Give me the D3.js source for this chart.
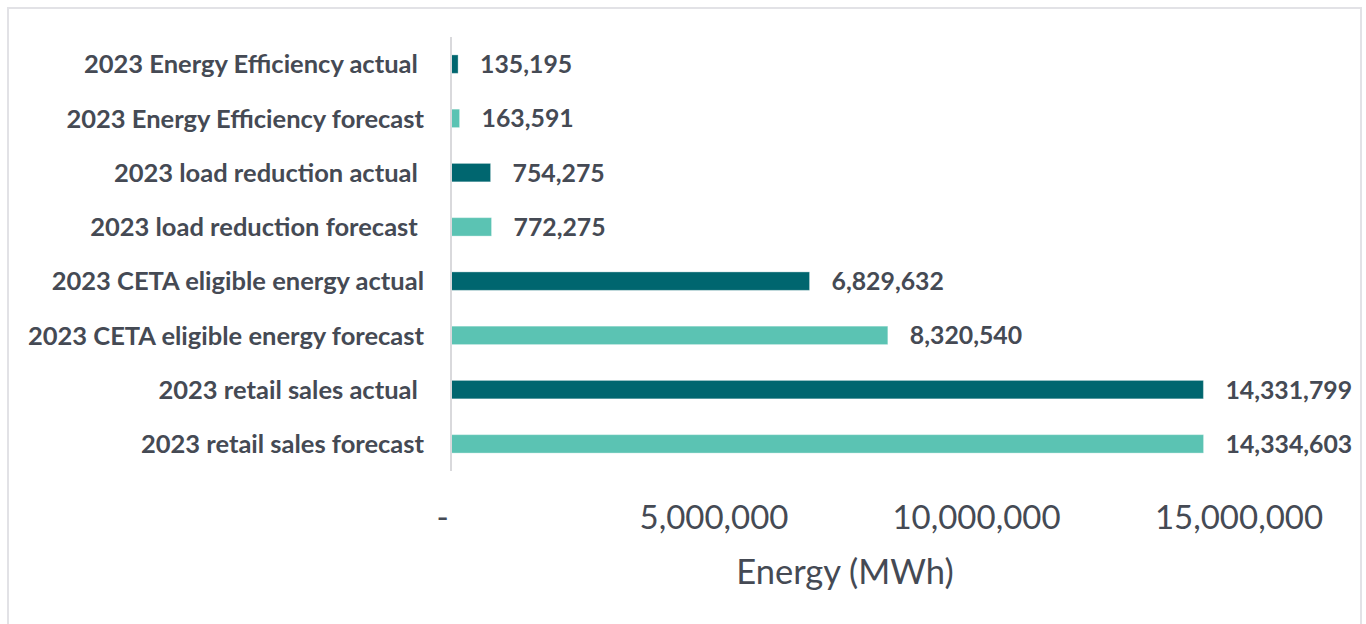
<!DOCTYPE html>
<html>
<head>
<meta charset="utf-8">
<script src="https://cdn.jsdelivr.net/npm/d3@7"></script>
<style>
  html, body { margin: 0; padding: 0; background: #ffffff; }
  svg { display: block; }
  text { white-space: pre; }
</style>
</head>
<body>
<svg id="chart" width="1366" height="624"></svg>
<script>
const categories = [
  "2023 Energy Efficiency actual ",
  "2023 Energy Efficiency forecast",
  "2023 load reduction actual ",
  "2023 load reduction forecast ",
  "2023 CETA eligible energy actual",
  "2023 CETA eligible energy forecast",
  "2023 retail sales actual ",
  "2023 retail sales forecast"
];
const values = [135195, 163591, 754275, 772275, 6829632, 8320540, 14331799, 14334603];
const seriesType = ["actual", "forecast", "actual", "forecast", "actual", "forecast", "actual", "forecast"];
const tickValues = [0, 5000000, 10000000, 15000000];
const tickLabels = ["-", "5,000,000", "10,000,000", "15,000,000"];
const axisTitle = "Energy (MWh)";

const colors = { actual: "#00666f", forecast: "#5bc3b3" };
const textColor = "#454a54";

const svg = d3.select("#chart");

// chart border
svg.append("rect")
  .attr("x", 8).attr("y", 8)
  .attr("width", 1353).attr("height", 640)
  .attr("fill", "none")
  .attr("stroke", "#e2e2e6")
  .attr("stroke-width", 2);

const x = d3.scaleLinear().domain([0, 16000000]).range([451, 1291]);
const y = d3.scaleBand().domain(categories).range([37, 471]).paddingInner(0.66).paddingOuter(0.33);

// bars
svg.append("g").selectAll("rect")
  .data(categories)
  .join("rect")
  .attr("x", x(0))
  .attr("y", d => y(d))
  .attr("width", (d, i) => x(values[i]) - x(0))
  .attr("height", y.bandwidth())
  .attr("fill", (d, i) => colors[seriesType[i]])
  .attr("stroke", "rgba(255,255,255,0.35)")
  .attr("stroke-width", 1);

// vertical axis line
svg.append("line")
  .attr("x1", x(0)).attr("x2", x(0))
  .attr("y1", 37).attr("y2", 471)
  .attr("stroke", "#d9d9dc")
  .attr("stroke-width", 2);

// category labels
svg.append("g").selectAll("text")
  .data(categories)
  .join("text")
  .attr("x", 424)
  .attr("y", d => y(d) + y.bandwidth() / 2)
  .attr("dy", "0.36em")
  .attr("text-anchor", "end")
  .attr("font-family", "Lato, sans-serif")
  .attr("font-weight", "bold")
  .attr("font-size", 25.5)
  .attr("fill", textColor)
  .text(d => d);

// data labels
const fmt = d3.format(",");
svg.append("g").selectAll("text")
  .data(categories)
  .join("text")
  .attr("x", (d, i) => x(values[i]) + 22)
  .attr("y", d => y(d) + y.bandwidth() / 2)
  .attr("dy", "0.36em")
  .attr("font-family", "Lato, sans-serif")
  .attr("font-weight", "bold")
  .attr("font-size", 24.8)
  .attr("fill", textColor)
  .text((d, i) => fmt(values[i]));

// x axis tick labels
const axis = d3.axisBottom(x)
  .tickValues(tickValues)
  .tickSize(0)
  .tickFormat((d, i) => tickLabels[i]);
const gx = svg.append("g").attr("transform", "translate(0,503)").call(axis);
gx.select(".domain").remove();
gx.selectAll("text")
  .attr("font-family", "Lato, sans-serif")
  .attr("font-size", 33)
  .attr("fill", textColor)
  .attr("dy", "0.71em")
  .attr("dx", d => d === 0 ? -9 : 0);

// axis title
svg.append("text")
  .attr("x", 845)
  .attr("y", 584)
  .attr("text-anchor", "middle")
  .attr("font-family", "Lato, sans-serif")
  .attr("font-size", 34.5)
  .attr("fill", textColor)
  .text(axisTitle);
</script>
</body>
</html>
